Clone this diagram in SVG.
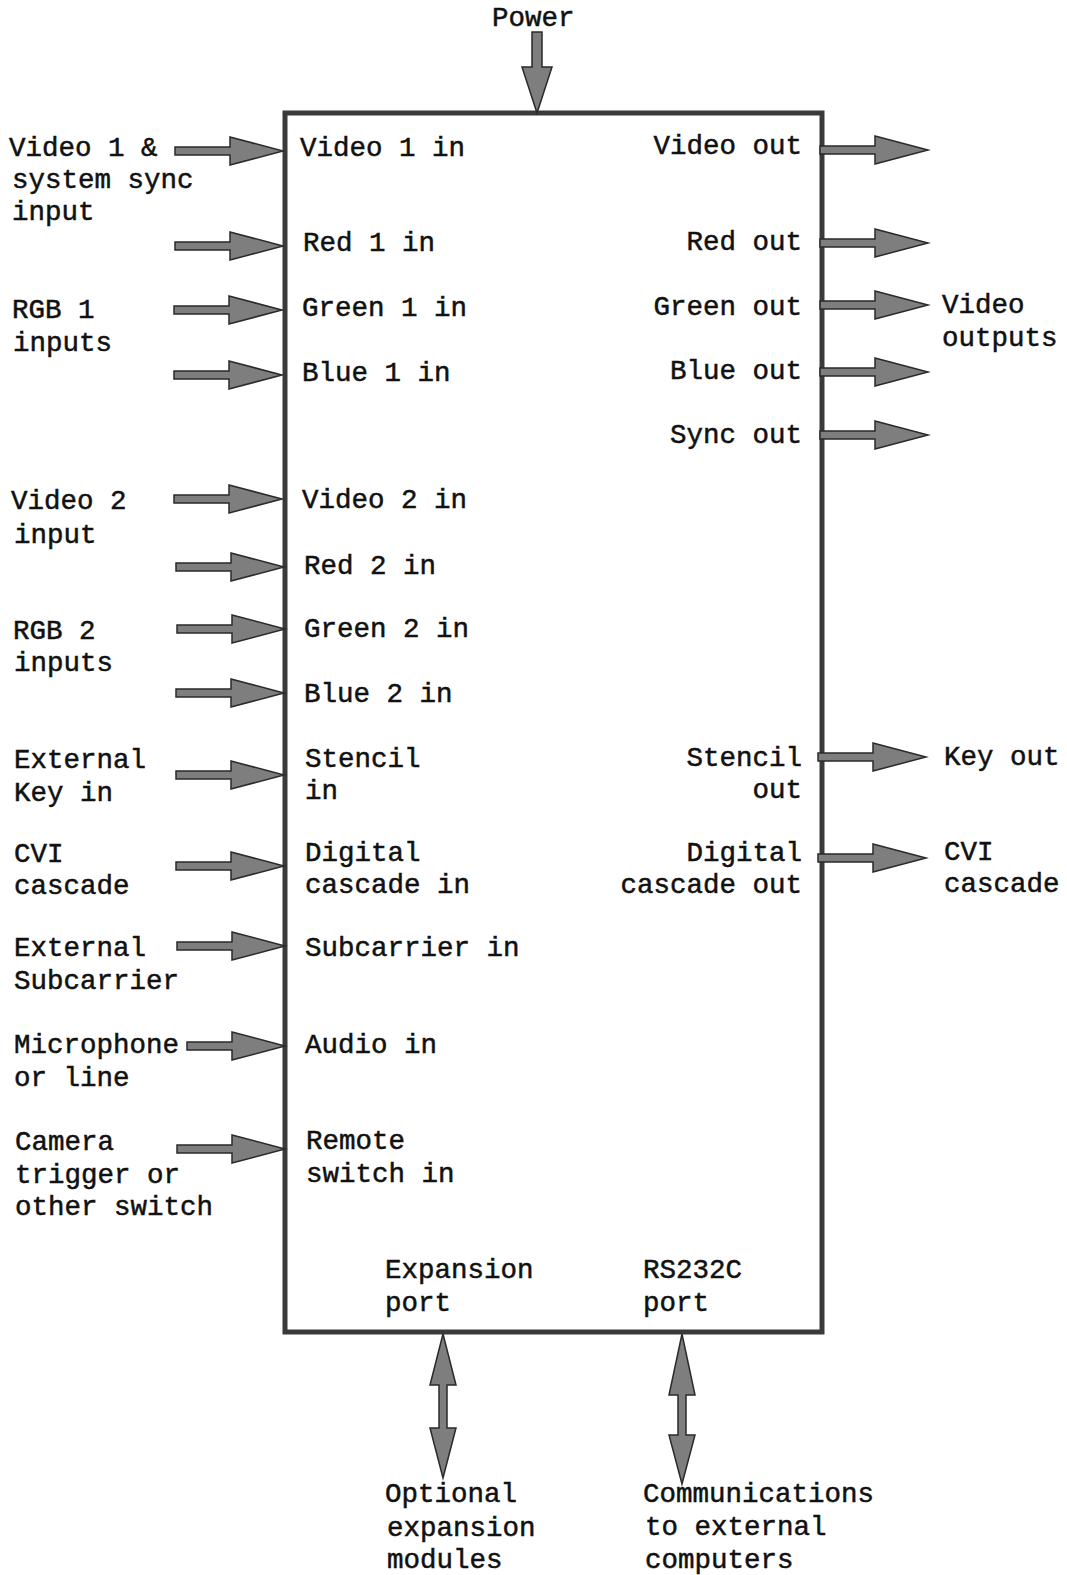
<svg xmlns="http://www.w3.org/2000/svg" xmlns:xlink="http://www.w3.org/1999/xlink" width="1067" height="1575" viewBox="0 0 1067 1575">
<style>
text{font-family:"Liberation Mono","Courier New",monospace;font-size:27.5px;fill:#111;stroke:#111;stroke-width:0.5}
.r{text-anchor:end}
.box{fill:none;stroke:#3a3a3a;stroke-width:5}
.arr{fill:#7e7e7e;stroke:#2a2a2a;stroke-width:1.5;stroke-linejoin:miter}
</style>
<defs>
<path id="ah" class="arr" d="M-108,-4 H-53 V-14 L0,0 L-53,14 V4 H-108 Z"/>
<path id="ahs" class="arr" d="M-98,-4 H-53 V-14 L0,0 L-53,14 V4 H-98 Z"/>
</defs>
<rect width="1067" height="1575" fill="#fff"/>

<g id="unit">
<rect class="box" x="285" y="113" width="537" height="1219"/>
<text x="300" y="156">Video 1 in</text>
<text x="303" y="251">Red 1 in</text>
<text x="302" y="316">Green 1 in</text>
<text x="302" y="381">Blue 1 in</text>
<text x="302" y="508">Video 2 in</text>
<text x="304" y="574">Red 2 in</text>
<text x="304" y="637">Green 2 in</text>
<text x="304" y="702">Blue 2 in</text>
<text x="305" y="767">Stencil</text>
<text x="305" y="799">in</text>
<text x="305" y="861">Digital</text>
<text x="305" y="893">cascade in</text>
<text x="305" y="956">Subcarrier in</text>
<text x="305" y="1053">Audio in</text>
<text x="306" y="1149">Remote</text>
<text x="306" y="1182">switch in</text>
<text x="385" y="1278">Expansion</text>
<text x="385" y="1311">port</text>
<text x="643" y="1278">RS232C</text>
<text x="643" y="1311">port</text>
<text class="r" x="802" y="154">Video out</text>
<text class="r" x="802" y="250">Red out</text>
<text class="r" x="802" y="315">Green out</text>
<text class="r" x="802" y="379">Blue out</text>
<text class="r" x="802" y="443">Sync out</text>
<text class="r" x="802" y="766">Stencil</text>
<text class="r" x="802" y="798">out</text>
<text class="r" x="802" y="861">Digital</text>
<text class="r" x="802" y="893">cascade out</text>
</g>

<g id="power"><text x="492" y="26">Power</text></g>
<g id="video1-src"><text x="9" y="156">Video 1 &amp;</text><text x="12" y="188">system sync</text><text x="12" y="220">input</text></g>
<g id="rgb1-src"><text x="12" y="318">RGB 1</text><text x="13" y="351">inputs</text></g>
<g id="video2-src"><text x="11" y="509">Video 2</text><text x="14" y="543">input</text></g>
<g id="rgb2-src"><text x="13" y="639">RGB 2</text><text x="14" y="671">inputs</text></g>
<g id="extkey-src"><text x="14" y="768">External</text><text x="14" y="801">Key in</text></g>
<g id="cvi-src"><text x="14" y="862">CVI</text><text x="14" y="894">cascade</text></g>
<g id="subc-src"><text x="14" y="956">External</text><text x="14" y="989">Subcarrier</text></g>
<g id="mic-src"><text x="14" y="1053">Microphone</text><text x="14" y="1086">or line</text></g>
<g id="cam-src"><text x="15" y="1150">Camera</text><text x="15" y="1183">trigger or</text><text x="15" y="1215">other switch</text></g>
<g id="video-out"><text x="942" y="313">Video</text><text x="942" y="346">outputs</text></g>
<g id="key-out"><text x="944" y="765">Key out</text></g>
<g id="cvi-out"><text x="944" y="860">CVI</text><text x="944" y="892">cascade</text></g>
<g id="exp-mod"><text x="385" y="1502">Optional</text><text x="387" y="1536">expansion</text><text x="387" y="1568">modules</text></g>
<g id="comm"><text x="643" y="1502">Communications</text><text x="645" y="1535">to external</text><text x="645" y="1568">computers</text></g>

<g id="connectors">
<path class="arr" d="M532,32 H542 V67 H552 L537,113 L522,67 H532 Z"/>
<use xlink:href="#ah" x="283" y="151"/>
<use xlink:href="#ah" x="283" y="246"/>
<use xlink:href="#ah" x="282" y="310"/>
<use xlink:href="#ah" x="282" y="375"/>
<use xlink:href="#ah" x="282" y="499"/>
<use xlink:href="#ah" x="284" y="567"/>
<use xlink:href="#ah" x="285" y="629"/>
<use xlink:href="#ah" x="284" y="693"/>
<use xlink:href="#ah" x="284" y="775"/>
<use xlink:href="#ah" x="284" y="866"/>
<use xlink:href="#ah" x="285" y="946"/>
<use xlink:href="#ahs" x="285" y="1046"/>
<use xlink:href="#ah" x="285" y="1149"/>
<use xlink:href="#ah" x="928" y="150"/>
<use xlink:href="#ah" x="928" y="243"/>
<use xlink:href="#ah" x="928" y="305"/>
<use xlink:href="#ah" x="928" y="372"/>
<use xlink:href="#ah" x="928" y="435"/>
<use xlink:href="#ah" x="926" y="757"/>
<use xlink:href="#ah" x="926" y="858"/>
<path class="arr" d="M443,1334 L456,1385 H447 V1428 H456 L443,1478 L430,1428 H439 V1385 H430 Z"/>
<path class="arr" d="M682,1334 L695,1395 H686 V1435 H695 L682,1484 L669,1435 H678 V1395 H669 Z"/>
</g>
</svg>
